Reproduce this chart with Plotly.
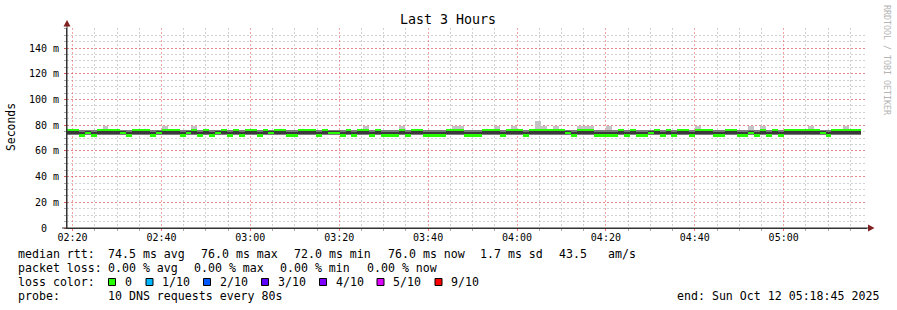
import pandas as pd
import plotly.graph_objects as go

# ---------------- data ----------------
start_time = "2025-10-12 02:18:45"
end_time = "2025-10-12 05:18:45"
step_seconds = 80

median_ms = [
    76, 76, 72, 74, 72, 76, 76, 76, 76, 74,
    72, 76, 76, 76, 72, 74, 76, 76, 76, 72,
    74, 76, 72, 76, 72, 74, 76, 72, 76, 72,
    76, 76, 72, 76, 74, 76, 76, 72, 72, 76,
    76, 76, 72, 76, 74, 74, 72, 76, 72, 76,
    76, 72, 76, 72, 72, 72, 76, 72, 76, 76,
    72, 72, 72, 72, 76, 76, 76, 72, 72, 72,
    76, 76, 76, 72, 76, 76, 76, 72, 76, 76,
    76, 76, 76, 76, 74, 72, 76, 76, 76, 72,
    72, 72, 72, 76, 72, 76, 72, 72, 74, 76,
    72, 76, 72, 76, 76, 72, 76, 76, 76, 72,
    72, 76, 76, 72, 72, 74, 72, 76, 72, 76,
    72, 76, 76, 76, 76, 76, 76, 74, 72, 76,
    76, 76, 76, 76,
]

ping_min = [
    72, 72, 72, 72, 72, 72, 72, 72, 72, 72,
    72, 72, 72, 72, 72, 72, 72, 72, 72, 72,
    72, 72, 72, 72, 72, 72, 72, 72, 72, 72,
    72, 72, 72, 72, 72, 72, 72, 72, 72, 72,
    72, 72, 72, 72, 72, 72, 72, 72, 72, 72,
    72, 72, 72, 72, 72, 72, 72, 72, 72, 72,
    72, 72, 72, 72, 72, 72, 72, 72, 72, 72,
    72, 72, 72, 72, 72, 72, 72, 72, 72, 72,
    72, 72, 72, 72, 72, 72, 72, 72, 72, 72,
    72, 72, 72, 72, 72, 72, 72, 72, 72, 72,
    72, 72, 72, 72, 72, 72, 72, 72, 72, 72,
    72, 72, 72, 72, 72, 72, 72, 72, 72, 72,
    72, 72, 72, 72, 72, 72, 72, 72, 72, 72,
    72, 72, 72, 72,
]

ping_q3 = [
    76, 76, 76, 76, 76, 76, 76, 76, 76, 76,
    76, 76, 76, 76, 76, 76, 76, 76, 76, 76,
    76, 76, 76, 76, 76, 76, 76, 76, 76, 76,
    76, 76, 76, 76, 76, 76, 76, 76, 76, 76,
    76, 76, 76, 76, 76, 76, 76, 76, 76, 76,
    76, 76, 76, 76, 76, 76, 76, 76, 76, 76,
    76, 76, 76, 76, 76, 76, 76, 76, 76, 76,
    76, 76, 76, 76, 76, 76, 76, 76, 76, 76,
    76, 76, 76, 76, 76, 76, 76, 76, 77, 76,
    76, 76, 76, 76, 76, 76, 76, 76, 76, 76,
    76, 76, 76, 76, 76, 76, 76, 76, 76, 76,
    76, 76, 76, 76, 76, 76, 76, 76, 76, 76,
    76, 76, 76, 76, 76, 76, 76, 76, 76, 76,
    76, 76, 76, 76,
]

ping_max = [
    76, 76, 76, 76, 76, 76, 79.5, 76, 76, 76,
    76, 76, 76, 76, 76, 76, 79.5, 76, 76, 76,
    76, 79.5, 76, 76, 76, 76, 76, 76, 76, 76,
    76, 76, 76, 76, 76, 76, 76, 76, 76, 76,
    76, 76, 76, 76, 76, 76, 76, 76, 76, 76,
    79.5, 76, 76, 76, 76, 76, 79.5, 76, 76, 76,
    76, 76, 76, 76, 76, 79.5, 79.5, 76, 76, 76,
    76, 76, 79.5, 76, 76, 79.5, 76, 76, 76, 83,
    79.5, 76, 79.5, 76, 76, 76, 79.5, 79.5, 79.5, 76,
    76, 79.5, 76, 76, 76, 76, 76, 76, 76, 76,
    76, 76, 76, 76, 76, 76, 79.5, 76, 76, 76,
    76, 76, 76, 76, 76, 79.5, 76, 79.5, 76, 76,
    76, 76, 76, 76, 76, 79.5, 76, 76, 76, 76,
    76, 79.5, 76, 76,
]

ping_core_lo = [
    73.5, 73.5, 72, 72.8, 72, 73.5, 73.5, 73.5, 73.5, 72.8,
    72, 73.5, 73.5, 73.5, 72, 72.8, 73.5, 73.5, 73.5, 72,
    72.8, 73.5, 72, 73.5, 72, 72.8, 73.5, 72, 73.5, 72,
    73.5, 73.5, 72, 73.5, 72.8, 73.5, 73.5, 72, 72, 73.5,
    73.5, 73.5, 72, 73.5, 72.8, 72.8, 72, 73.5, 72, 73.5,
    73.5, 72, 73.5, 72, 72, 72, 73.5, 72, 73.5, 73.5,
    72, 72, 72, 72, 73.5, 73.5, 73.5, 72, 72, 72,
    73.5, 73.5, 73.5, 72, 73.5, 73.5, 73.5, 72, 73.5, 73.5,
    73.5, 73.5, 73.5, 73.5, 72.8, 72, 73.5, 73.5, 73.5, 72,
    72, 72, 72, 73.5, 72, 73.5, 72, 72, 72.8, 73.5,
    72, 73.5, 72, 73.5, 73.5, 72, 73.5, 73.5, 73.5, 72,
    72, 73.5, 73.5, 72, 72, 72.8, 72, 73.5, 72, 73.5,
    72, 73.5, 73.5, 73.5, 73.5, 73.5, 73.5, 72.8, 72, 73.5,
    73.5, 73.5, 73.5, 73.5,
]

ping_core_hi = [
    76, 76, 74.5, 75.2, 74.5, 76, 76, 76, 76, 75.2,
    74.5, 76, 76, 76, 74.5, 75.2, 76, 76, 76, 74.5,
    75.2, 76, 74.5, 76, 74.5, 75.2, 76, 74.5, 76, 74.5,
    76, 76, 74.5, 76, 75.2, 76, 76, 74.5, 74.5, 76,
    76, 76, 74.5, 76, 75.2, 75.2, 74.5, 76, 74.5, 76,
    76, 74.5, 76, 74.5, 74.5, 74.5, 76, 74.5, 76, 76,
    74.5, 74.5, 74.5, 74.5, 76, 76, 76, 74.5, 74.5, 74.5,
    76, 76, 76, 74.5, 76, 76, 76, 74.5, 76, 76,
    76, 76, 76, 76, 75.2, 74.5, 76, 76, 76, 74.5,
    74.5, 74.5, 74.5, 76, 74.5, 76, 74.5, 74.5, 75.2, 76,
    74.5, 76, 74.5, 76, 76, 74.5, 76, 76, 76, 74.5,
    74.5, 76, 76, 74.5, 74.5, 75.2, 74.5, 76, 74.5, 76,
    74.5, 76, 76, 76, 76, 76, 76, 75.2, 74.5, 76,
    76, 76, 76, 76,
]

y_tick_vals = [0, 20, 40, 60, 80, 100, 120, 140]
y_tick_text = ["0\u00a0\u00a0", "20 m", "40 m", "60 m", "80 m", "100 m", "120 m", "140 m"]

legend_rtt = ["median rtt:", "74.5 ms avg", "76.0 ms max", "72.0 ms min", "76.0 ms now",
              "1.7 ms sd", "43.5", "am/s"]
legend_loss = ["packet loss:", "0.00 % avg", "0.00 % max", "0.00 % min", "0.00 % now"]
legend_color_head = "loss color:"
legend_probe = ["probe:", "10 DNS requests every 80s"]
loss_labels = ["0", "1/10", "2/10", "3/10", "4/10", "5/10", "9/10"]
loss_colors = ["#26ff00", "#00b8ff", "#0059ff", "#5e00ff", "#7e00ff", "#dd00ff", "#ff0000"]
end_label = "end: Sun Oct 12 05:18:45 2025"

# ---------------- figure ----------------
times = pd.date_range(start=start_time, periods=len(median_ms), freq=f"{step_seconds}s")
W = step_seconds * 1000
MONO = "DejaVu Sans Mono"

fig = go.Figure()

def band(lo, hi, color):
    fig.add_trace(go.Bar(
        x=times, base=lo, y=[h - l for l, h in zip(lo, hi)],
        width=W, offset=0, marker=dict(color=color, line=dict(width=0)),
        hoverinfo="skip", showlegend=False,
    ))

band(ping_min, ping_max, "#c4c4c4")
band(ping_min, ping_q3, "#7a7a7a")
band(ping_core_lo, ping_core_hi, "#3a3a3a")

# median drawn as a thin strip per step (like smokeping's stacked median)
thick = 1.7
fig.add_trace(go.Bar(
    x=times, base=[m - thick / 2 for m in median_ms], y=[thick] * len(median_ms),
    width=W, offset=0, marker=dict(color=loss_colors[0], line=dict(width=0)),
    hoverinfo="skip", showlegend=False,
))

L, T, PW, PH = 67, 28, 800, 200
def fx(px):
    return (px - L) / PW
def fy(py):
    return (T + PH - py) / PH

minor_grid = "rgba(140,140,140,0.4)"
major_grid = "rgba(235,70,70,0.5)"

fig.update_layout(
    width=897, height=310,
    margin=dict(l=L, r=897 - L - PW, t=T, b=310 - T - PH),
    paper_bgcolor="white", plot_bgcolor="white",
    barmode="overlay", bargap=0,
    font=dict(family=MONO, size=10, color="#000"),
    xaxis=dict(
        type="date", range=[start_time, end_time],
        tick0="2025-10-12 02:20:00", dtick=20 * 60 * 1000, tickformat="%H:%M",
        showgrid=True, gridcolor=major_grid, griddash="2px,2px", gridwidth=1,
        ticks="outside", ticklen=2, tickcolor="rgba(235,70,70,0.8)",
        minor=dict(dtick=5 * 60 * 1000, showgrid=True, gridcolor=minor_grid,
                   griddash="2px,2px", ticks="outside", ticklen=2, tickcolor="#aaa"),
        showline=True, linecolor="#333", linewidth=1,
        tickfont=dict(family=MONO, size=10, color="#000"),
        zeroline=False, fixedrange=True, ticklabelstandoff=-2,
    ),
    yaxis=dict(
        range=[0, PH / (180 / 140)],
        tickvals=y_tick_vals, ticktext=y_tick_text,
        showgrid=True, gridcolor=major_grid, griddash="2px,2px", gridwidth=1,
        ticks="outside", ticklen=2, tickcolor="rgba(235,70,70,0.8)",
        minor=dict(dtick=5, showgrid=True, gridcolor=minor_grid, griddash="2px,2px",
                   ticks="outside", ticklen=2, tickcolor="#aaa"),
        showline=True, linecolor="#333", linewidth=1,
        tickfont=dict(family=MONO, size=10, color="#000"),
        zeroline=False, fixedrange=True, ticklabelstandoff=3,
    ),
)

ann = []
def text_at(txt, px, py, size=11.6, anchor="left", color="#000", angle=0):
    ann.append(dict(text=txt.replace(" ", "\u00a0"), x=fx(px), y=fy(py), xref="paper", yref="paper",
                    showarrow=False, xanchor=anchor, yanchor="middle", textangle=angle,
                    font=dict(family=MONO, size=size, color=color)))

text_at("Last 3 Hours", 448, 19, size=13.3, anchor="center")
text_at("Seconds", 11, 127, size=11.4, anchor="center", angle=-90)
text_at("RRDTOOL / TOBI OETIKER", 887, 60, size=8.3, anchor="center", color="#b4b4b4", angle=90)

rtt_x = [15.5, 106.3, 199, 292.3, 385.7, 478.3, 557.3, 606.3]
for txt, px in zip(legend_rtt, rtt_x):
    text_at(txt, px, 254)
loss_x = [15.5, 106.3, 192.3, 278.3, 364.7]
for txt, px in zip(legend_loss, loss_x):
    text_at(txt, px, 268)
text_at(legend_color_head, 15.5, 282)
probe_x = [15.5, 106.3]
for txt, px in zip(legend_probe, probe_x):
    text_at(txt, px, 296)
text_at(end_label, 881, 296, anchor="right")

square_x = [108.5, 146, 203.5, 261.5, 319.5, 377, 435]
shapes = []
for lab, col, sx in zip(loss_labels, loss_colors, square_x):
    shapes.append(dict(type="rect", xref="paper", yref="paper",
                       x0=fx(sx), x1=fx(sx + 7), y0=fy(285.5), y1=fy(278.5),
                       fillcolor=col, line=dict(color="#000", width=1)))
    text_at(lab, sx + 14, 282)

# axis extensions and arrows
shapes.append(dict(type="line", xref="paper", yref="paper", x0=fx(67), x1=fx(67),
                   y0=fy(228), y1=fy(24), line=dict(color="#333", width=1)))
shapes.append(dict(type="line", xref="paper", yref="paper", x0=fx(62), x1=fx(870),
                   y0=fy(228), y1=fy(228), line=dict(color="#333", width=1)))
shapes.append(dict(type="path", xref="paper", yref="paper",
                   path=f"M {fx(63.5)},{fy(26.5)} L {fx(70.5)},{fy(26.5)} L {fx(67)},{fy(20)} Z",
                   fillcolor="#7f1f1f", line=dict(width=0)))
shapes.append(dict(type="path", xref="paper", yref="paper",
                   path=f"M {fx(868)},{fy(224.5)} L {fx(868)},{fy(231.5)} L {fx(874.5)},{fy(228)} Z",
                   fillcolor="#7f1f1f", line=dict(width=0)))

fig.update_layout(annotations=ann, shapes=shapes)
fig.write_html("out.html")
